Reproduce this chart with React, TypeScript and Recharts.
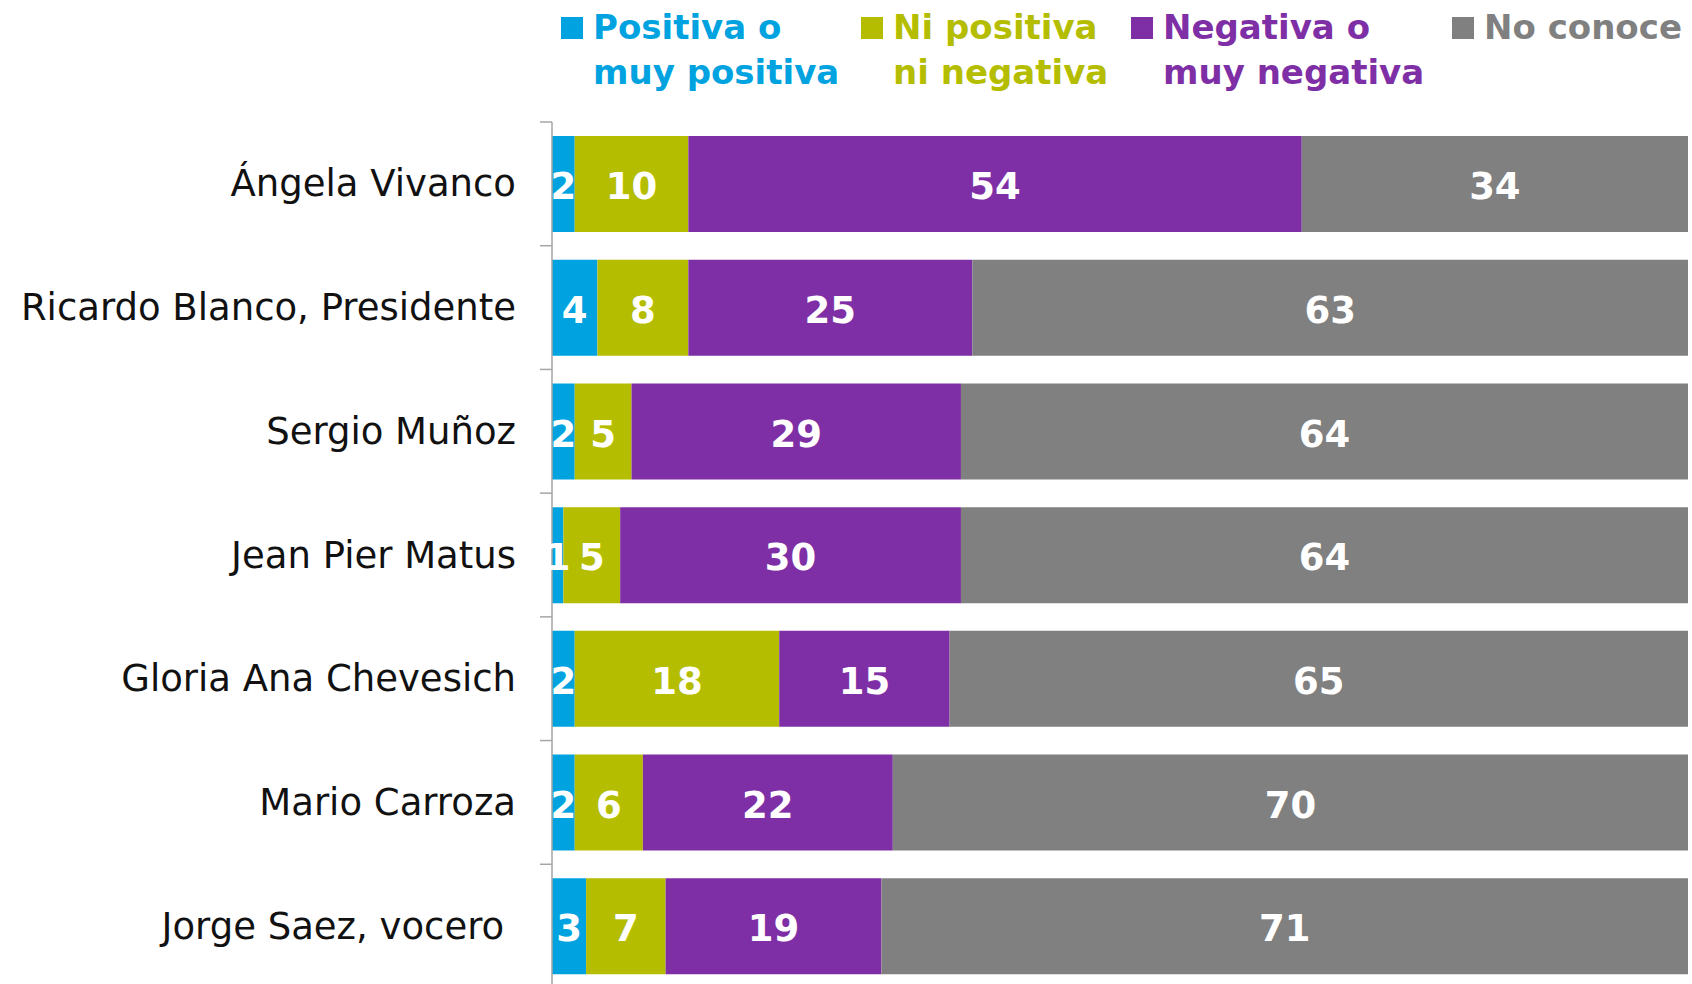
import { Bar, BarChart, LabelList, Legend, XAxis, YAxis } from 'recharts'

// Valoración de integrantes (%), stacked to 100
const candidatos = [
  'Ángela Vivanco',
  'Ricardo Blanco, Presidente',
  'Sergio Muñoz',
  'Jean Pier Matus',
  'Gloria Ana Chevesich',
  'Mario Carroza',
  'Jorge Saez, vocero\u00a0',
]
const positiva = [2, 4, 2, 1, 2, 2, 3]
const neutra = [10, 8, 5, 5, 18, 6, 7]
const negativa = [54, 25, 29, 30, 15, 22, 19]
const noConoce = [34, 63, 64, 64, 65, 70, 71]

const seriesNames = ['Positiva o muy positiva', 'Ni positiva ni negativa', 'Negativa o muy negativa', 'No conoce']
const legendLines = [['Positiva o', 'muy positiva'], ['Ni positiva', 'ni negativa'], ['Negativa o', 'muy negativa'], ['No conoce']]
const colors = ['#00A3E0', '#B5BD00', '#7F2FA5', '#808080']

const data = candidatos.map((name, i) => ({
  name,
  pos: positiva[i],
  neu: neutra[i],
  neg: negativa[i],
  nc: noConoce[i],
}))

const W = 1692
const H = 988
const TOP = 122
const AXIS_X = 552
const BAND = (H - TOP) / candidatos.length
const FONT = '"DejaVu Sans", sans-serif'

function CategoryTick(props: any) {
  const { y, payload } = props
  return (
    <g>
      <line x1={AXIS_X - 12} x2={AXIS_X} y1={y - BAND / 2} y2={y - BAND / 2} stroke="#a6a6a6" strokeWidth={1.5} />
      <text x={AXIS_X - 36} y={y} textAnchor="end" dominantBaseline="central" fontFamily={FONT} fontSize={37} fill="#111">
        {payload.value}
      </text>
    </g>
  )
}

// legend item positions in px (square left)
const legendX = [561, 861, 1131, 1452]

function LegendBlock() {
  return (
    <div style={{ position: 'relative', width: W, height: 110, fontFamily: FONT, fontWeight: 'bold', fontSize: 34 }}>
      {legendLines.map((lines, i) => (
        <div key={i}>
          <div style={{ position: 'absolute', left: legendX[i], top: 17, width: 22, height: 22, background: colors[i] }} />
          <div style={{ position: 'absolute', left: legendX[i] + 32, top: 5, color: colors[i], lineHeight: '45px', whiteSpace: 'nowrap' }}>
            {lines.map((l, j) => (
              <div key={j}>{l}</div>
            ))}
          </div>
        </div>
      ))}
    </div>
  )
}

export default function App() {
  const keys = ['pos', 'neu', 'neg', 'nc']
  return (
    <div style={{ position: 'absolute', left: 0, top: 0, width: W, height: 984, overflow: 'hidden', background: '#fff' }}>
      <BarChart width={W} height={H} data={data} layout="vertical" margin={{ top: TOP, right: 4, bottom: 0, left: 0 }}>
        <XAxis type="number" domain={[0, 100]} hide />
        <YAxis
          type="category"
          dataKey="name"
          width={AXIS_X}
          axisLine={{ stroke: '#a6a6a6', strokeWidth: 1.5 }}
          tickLine={false}
          tick={<CategoryTick />}
          interval={0}
        />
        <Legend
          layout="vertical"
          verticalAlign="middle"
          align="center"
          wrapperStyle={{ top: 0, left: 0, width: W }}
          content={() => <LegendBlock />}
        />
        {keys.map((k, i) => (
          <Bar key={k} dataKey={k} name={seriesNames[i]} stackId="a" fill={colors[i]} barSize={96} isAnimationActive={false}>
            <LabelList dataKey={k} position="center" fill="#fff" fontFamily={FONT} fontWeight="bold" fontSize={37} dy={2} />
          </Bar>
        ))}
      </BarChart>
    </div>
  )
}
